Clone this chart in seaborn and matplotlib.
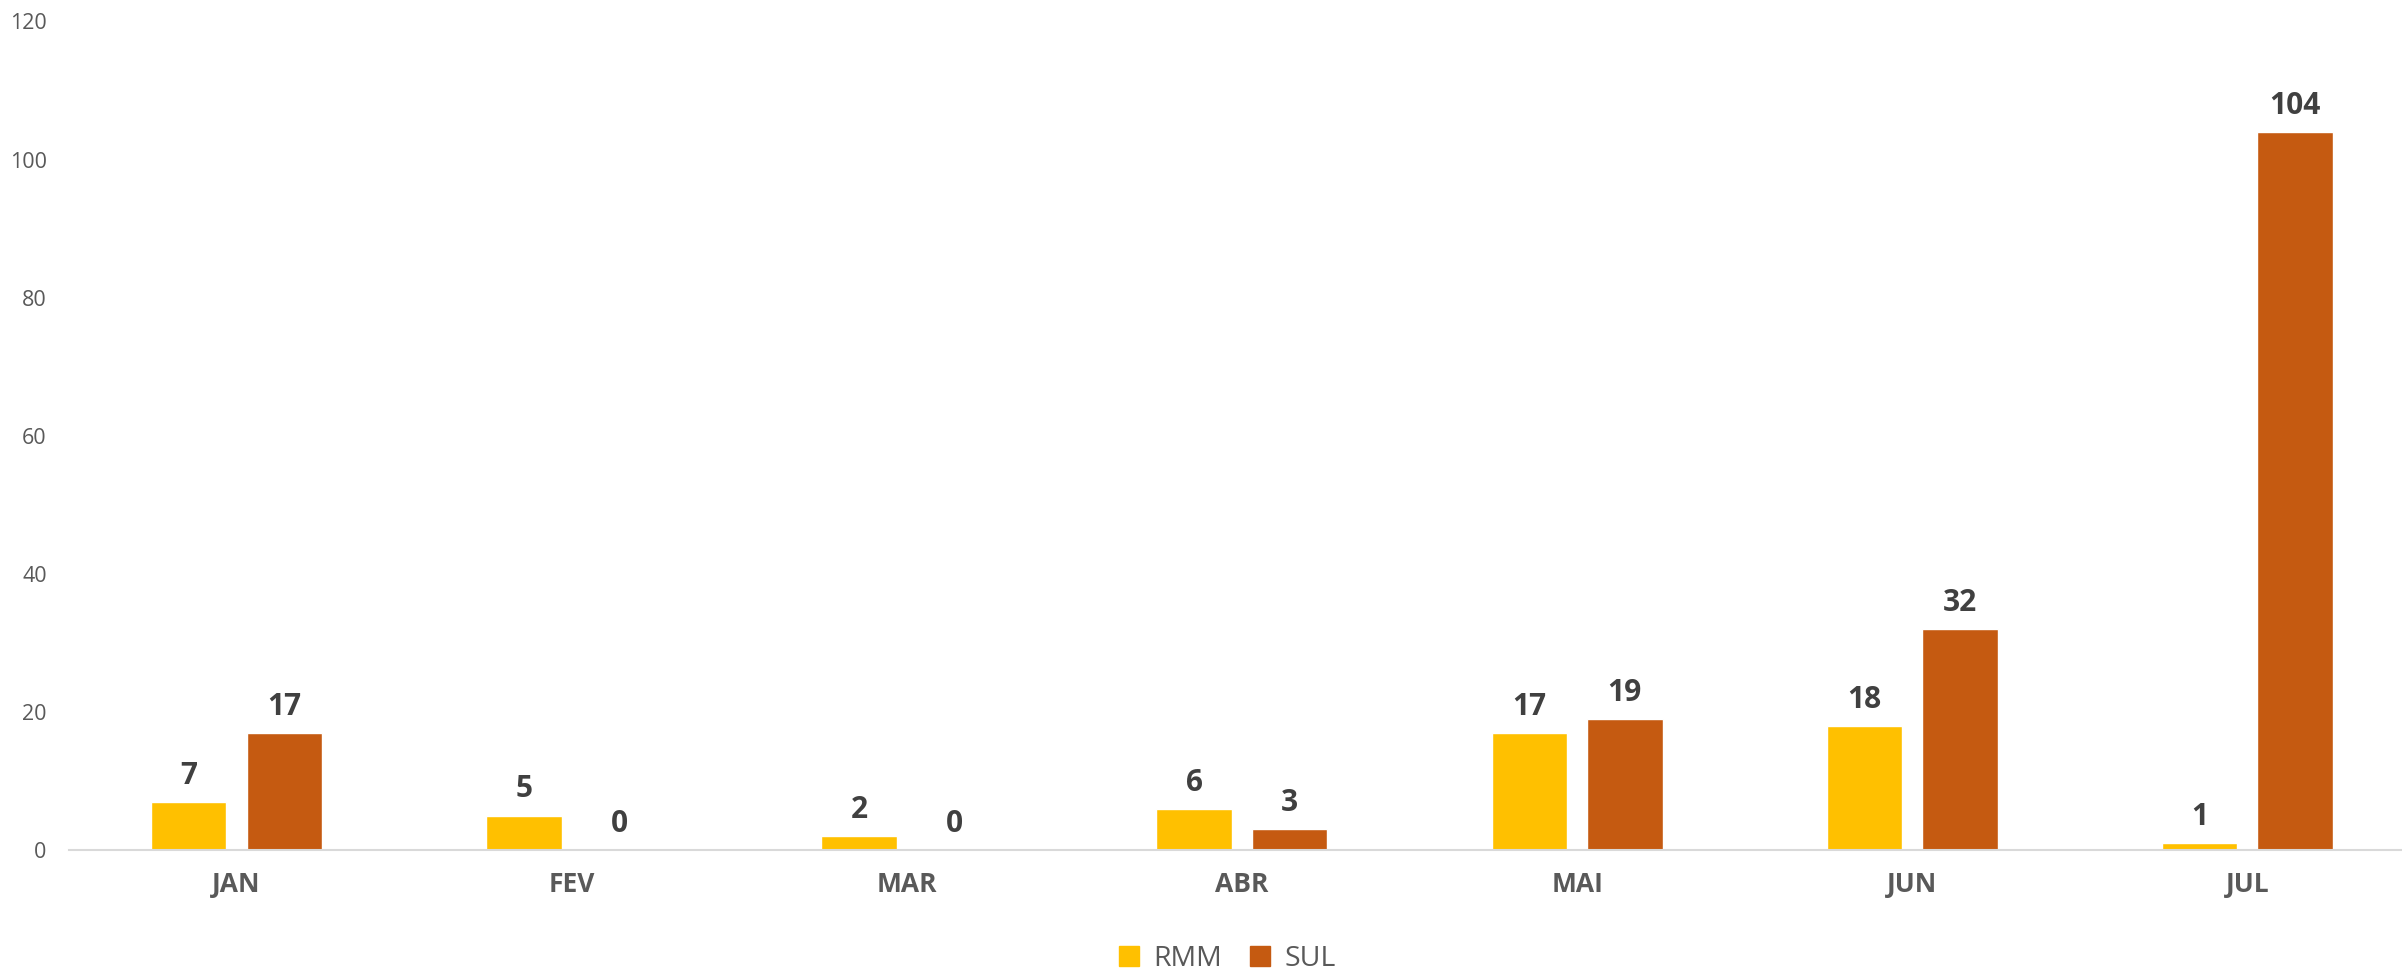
import matplotlib
matplotlib.use("Agg")
import matplotlib.pyplot as plt
import pandas as pd
import seaborn as sns

# data
months = ["JAN", "FEV", "MAR", "ABR", "MAI", "JUN", "JUL"]
rmm = [7, 5, 2, 6, 17, 18, 1]
sul = [17, 0, 0, 3, 19, 32, 104]
series = ["RMM", "SUL"]
colors = ["#FFC000", "#C55A11"]

df = pd.DataFrame(
    {
        "mes": months * 2,
        "valor": rmm + sul,
        "serie": [series[0]] * len(months) + [series[1]] * len(months),
    }
)

sns.set_theme(style="white")
plt.rcParams["font.family"] = ["Open Sans", "DejaVu Sans"]

fig = plt.figure(figsize=(24.02, 9.76), dpi=100)
ax = fig.add_axes([0.0287, 0.129, 0.9767, 0.849])

sns.barplot(
    data=df,
    x="mes",
    y="valor",
    hue="serie",
    palette=colors,
    width=0.57,
    gap=0.21,
    saturation=1,
    legend=False,
    ax=ax,
)

# value labels on top of each bar
for cont in ax.containers:
    ax.bar_label(
        cont, fmt="%d", padding=8, fontsize=21.5, fontweight="bold", color="#404040"
    )

ax.set_ylim(0, 120)
ax.set_yticks(range(0, 121, 20))
ax.set_xlabel("")
ax.set_ylabel("")
ax.tick_params(axis="y", length=0, pad=16, labelsize=15.5, labelcolor="#595959")
ax.tick_params(axis="x", length=0, pad=15, labelsize=19, labelcolor="#595959")
for lab in ax.get_xticklabels():
    lab.set_fontweight("bold")

sns.despine(ax=ax, left=True)
ax.spines["bottom"].set_color("#D9D9D9")
ax.spines["bottom"].set_linewidth(1.5)

# legend at the bottom
handles = [plt.Rectangle((0, 0), 1, 1, color=c) for c in colors]
fig.legend(
    handles,
    series,
    loc="center",
    bbox_to_anchor=(0.511, 0.017),
    ncol=2,
    frameon=False,
    fontsize=20.5,
    labelcolor="#595959",
    handlelength=0.7,
    handleheight=0.7,
    handletextpad=0.5,
    columnspacing=1.0,
)

fig.savefig("out.png", dpi=100)
